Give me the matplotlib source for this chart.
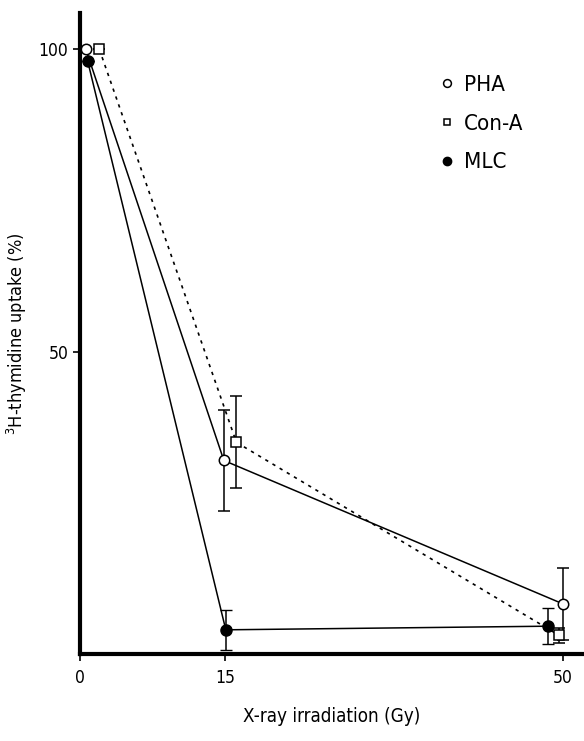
import matplotlib.pyplot as plt

# data
dose_pha = [0.6, 14.9, 50.0]
pha = [100, 32, 8.3]
pha_err = [0, 8.3, 6.0]

dose_cona = [2.0, 16.2, 49.6]
cona = [100, 35, 3.1]
cona_err = [0, 7.6, 1.2]

dose_mlc = [0.8, 15.1, 48.5]
mlc = [98, 4.0, 4.6]
mlc_err = [0, 3.3, 3.0]

xticks = [0, 15, 50]
yticks = [50, 100]

plt.rcParams['font.family'] = ['DejaVu Sans']
plt.rcParams['font.stretch'] = 'condensed'

fig = plt.figure(figsize=(5.84, 7.41), dpi=100)
ax = fig.add_axes([0.137, 0.1174, 0.863, 0.8651])

ax.errorbar(dose_pha, pha, yerr=pha_err, color='black', lw=1.1, ls='-',
            marker='o', ms=7.5, mfc='white', mec='black', mew=1.1,
            capsize=4, elinewidth=1.1, label='PHA', zorder=3)
ax.errorbar(dose_cona, cona, yerr=cona_err, color='black', lw=1.2, ls=(0, (2, 3)),
            marker='s', ms=6.5, mfc='white', mec='black', mew=1.1,
            capsize=4, elinewidth=1.1, label='Con-A', zorder=3)
ax.errorbar(dose_mlc, mlc, yerr=mlc_err, color='black', lw=1.1, ls='-',
            marker='o', ms=8, mfc='black', mec='black',
            capsize=4, elinewidth=1.1, label='MLC', zorder=3)

ax.set_xlim(0, 52.2)
ax.set_ylim(0, 106)
ax.set_xticks(xticks)
ax.set_yticks(yticks)
ax.tick_params(axis='both', direction='out', length=5, width=1.2, labelsize=12.5)
ax.tick_params(axis='x', pad=6)
for s in ['top', 'right']:
    ax.spines[s].set_visible(False)
for s in ['left', 'bottom']:
    ax.spines[s].set_linewidth(3)
    ax.spines[s].set_zorder(4)

ax.set_ylabel('$^3$H-thymidine uptake (%)', fontsize=13, labelpad=7)
ax.set_xlabel('X-ray irradiation (Gy)', fontsize=13.5, labelpad=14)

h, l = ax.get_legend_handles_labels()
leg = ax.legend([x[0] for x in h], l, loc='upper left', bbox_to_anchor=(0.67, 0.935),
                frameon=False, fontsize=16, handlelength=0.8, handletextpad=0.4,
                labelspacing=0.85, markerscale=0.75)
for line in leg.get_lines():
    line.set_linestyle('none')

fig.savefig('out.png', dpi=100)
